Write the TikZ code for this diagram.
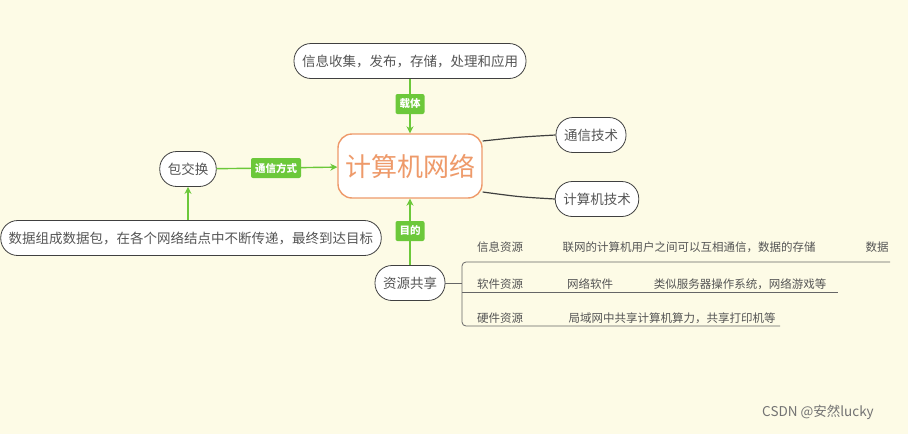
\documentclass[tikz,border=0pt]{standalone}
\usepackage{fontspec}
\setmainfont{Noto Sans CJK SC}
\usetikzlibrary{arrows.meta}
\definecolor{bg}{HTML}{FDFBE6}
\definecolor{gr}{HTML}{6CC83A}
\definecolor{org}{HTML}{EE9A6A}
\definecolor{tx}{HTML}{555555}
\tikzset{
  topic/.style={draw=black!75,line width=0.8pt,fill=white,rounded corners=17pt,minimum height=35pt,inner xsep=8pt,font=\fontsize{13.5}{15}\selectfont,text=tx},
  lab/.style={fill=gr,rounded corners=2pt,text=white,font=\fontsize{10.5}{12}\selectfont\bfseries,inner xsep=4pt,minimum height=20pt},
  garr/.style={draw=gr,line width=1.4pt,-{Stealth[length=7pt,width=7pt]}},
  gl/.style={draw=gr,line width=1.4pt},
  dl/.style={draw=black!75,line width=1.2pt},
  leaf/.style={font=\fontsize{11.5}{13}\selectfont,text=tx,anchor=base},
  bl/.style={draw=black!60,line width=0.8pt}
}
\begin{document}
\begin{tikzpicture}[x=1pt,y=-1pt]
\fill[bg] (0,0) rectangle (908,434);
\useasboundingbox (0,0) rectangle (908,434);
\node[topic] (top) at (410,61) {信息收集，发布，存储，处理和应用};
\node[draw=org,line width=1.4pt,fill=white,rounded corners=14pt,minimum width=144pt,minimum height=64pt,text=org,font=\fontsize{26}{28}\selectfont] (c) at (410,166) {计算机网络};
\node[topic] (pk) at (188,169) {包交换};
\node[topic] (ln) at (191,238) {数据组成数据包，在各个网络结点中不断传递，最终到达目标};
\node[topic] (zy) at (410,283) {资源共享};
\node[topic] (tx) at (591,135) {通信技术};
\node[topic] (js) at (597,199) {计算机技术};
\node[lab] (l1) at (410,104) {载体};
\node[lab] (l2) at (276,168) {通信方式};
\node[lab] (l3) at (410,231) {目的};
\draw[gl] (top) -- (l1); \draw[garr] (l1) -- (c);
\draw[gl] (pk) -- (l2); \draw[garr] (l2) -- (c);
\draw[gl] (zy) -- (l3); \draw[garr] (l3) -- (c);
\draw[garr] (ln.north -| pk) -- (pk);
\draw[dl] (c.east |- 0,141) .. controls (520,137) .. (tx.west);
\draw[dl] (c.east |- 0,192) .. controls (520,197) .. (js.west);
\coordinate (b0) at (462,283);
\draw[bl] (zy.east) -- (b0);
\draw[bl,rounded corners=4pt] (890,262) -- (462,262) -- (462,326) -- (780,326);
\draw[bl] (462,292) -- (838,292);
\node[leaf] (a1) at (500,251) {信息资源};
\node[leaf] (a2) at (689,251) {联网的计算机用户之间可以互相通信，数据的存储};
\node[leaf] (a3) at (877,251) {数据};
\node[leaf] (b1) at (500,288) {软件资源};
\node[leaf] (b2) at (590,288) {网络软件};
\node[leaf] (b3) at (740,288) {类似服务器操作系统，网络游戏等};
\node[leaf] (d1) at (500,322) {硬件资源};
\node[leaf] (d2) at (672,322) {局域网中共享计算机算力，共享打印机等};
\node[font=\fontsize{13.5}{15}\selectfont,text=black!55] (wm) at (818,412) {CSDN @安然lucky};
\end{tikzpicture}
\end{document}
